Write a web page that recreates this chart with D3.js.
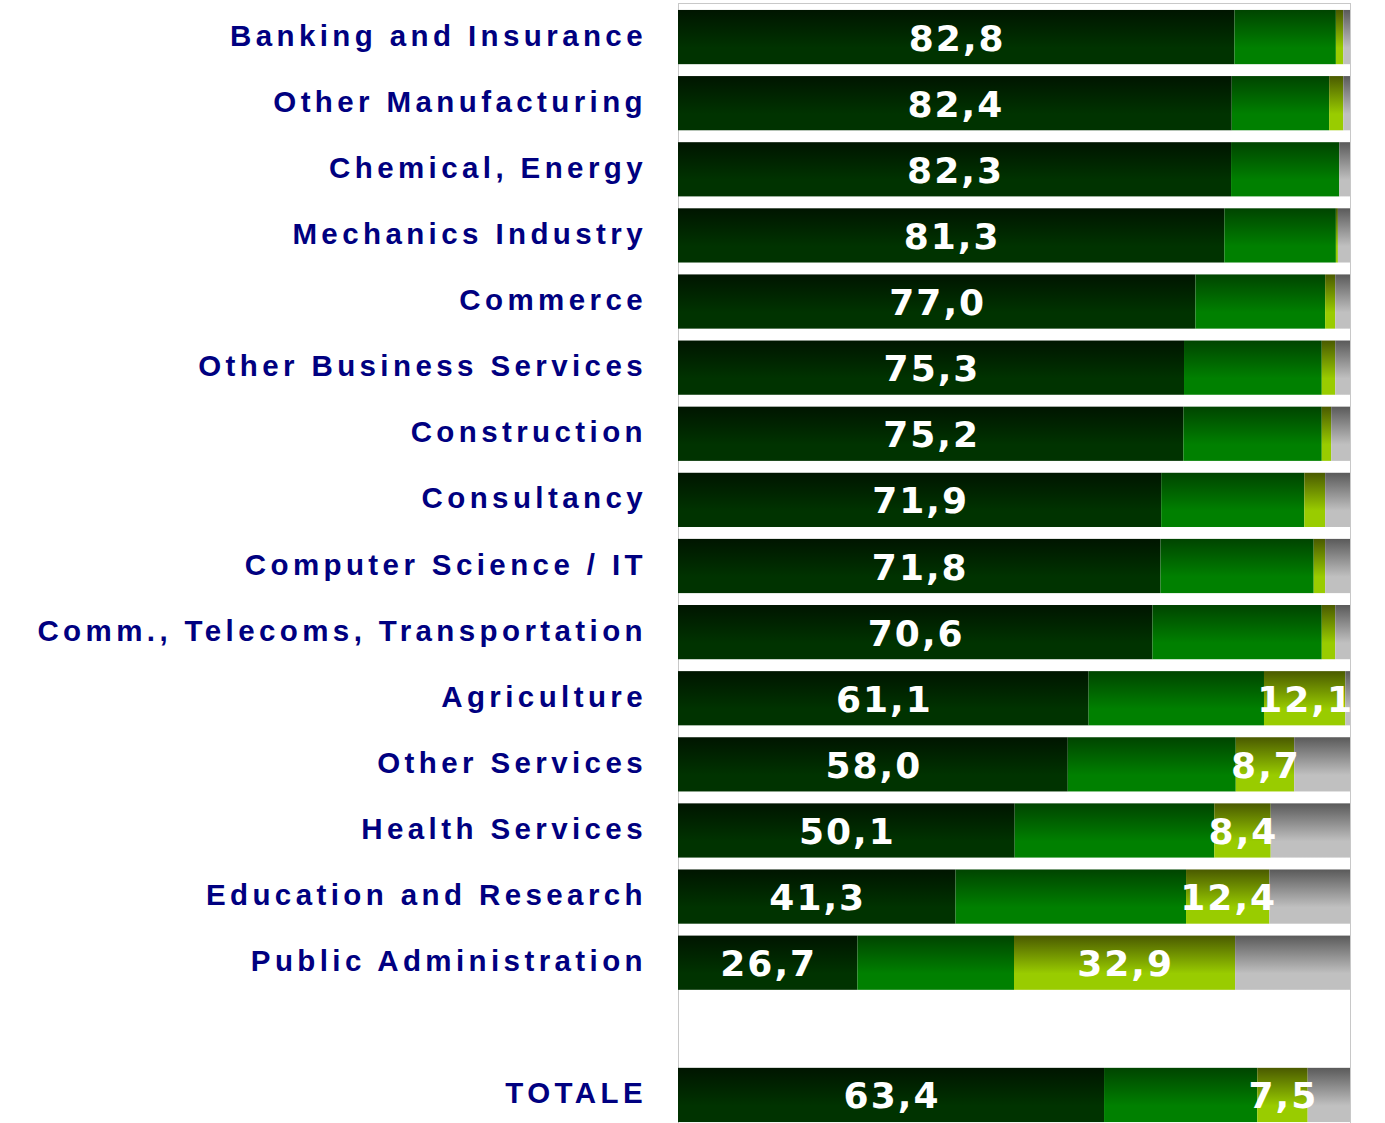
<!DOCTYPE html>
<html>
<head>
<meta charset="utf-8">
<script src="https://cdn.jsdelivr.net/npm/d3@7"></script>
<style>
  body { margin: 0; background: #fff; }
  svg { display: block; }
</style>
</head>
<body>
<svg></svg>
<script>
// rows, top to bottom ("" is the empty slot before the total)
var categories = ["Banking and Insurance", "Other Manufacturing", "Chemical, Energy",
  "Mechanics Industry", "Commerce", "Other Business Services", "Construction",
  "Consultancy", "Computer Science / IT", "Comm., Telecoms, Transportation",
  "Agriculture", "Other Services", "Health Services", "Education and Research",
  "Public Administration", "", "TOTALE"];

// the four stacked shares (%) for each row
var seriesDark  = [82.8, 82.4, 82.3, 81.3, 77.0, 75.3, 75.2, 71.9, 71.8, 70.6, 61.1, 58.0, 50.1, 41.3, 26.7, null, 63.4];
var seriesGreen = [15.1, 14.5, 16.1, 16.6, 19.3, 20.5, 20.6, 21.3, 22.8, 25.2, 26.1, 25.0, 29.7, 34.3, 23.3, null, 22.8];
var seriesLime  = [ 1.1,  2.1,  0.0,  0.3,  1.5,  2.0,  1.4,  3.1,  1.7,  2.0, 12.1,  8.7,  8.4, 12.4, 32.9, null,  7.5];
var seriesGray  = [ 1.0,  1.0,  1.6,  1.8,  2.2,  2.2,  2.8,  3.7,  3.7,  2.2,  0.7,  8.3, 11.8, 12.0, 17.1, null,  6.3];

var width = 1385, height = 1123;
var margins = {top: 4, right: 35, bottom: 0, left: 678};

var svg = d3.select("svg")
  .attr("width", width)
  .attr("height", height);

var fills = [
  {id: "gDark",  top: "#001500", mid: "#003300"},
  {id: "gGreen", top: "#004400", mid: "#008000"},
  {id: "gLime",  top: "#4a5a00", mid: "#99cc00"},
  {id: "gGray",  top: "#5a5a5a", mid: "#c0c0c0"}
];

var defs = svg.append("defs");
fills.forEach(function(f){
  var g = defs.append("linearGradient")
    .attr("id", f.id)
    .attr("x1", 0).attr("y1", 0).attr("x2", 0).attr("y2", 1);
  g.append("stop").attr("offset", "0%").attr("stop-color", f.top);
  g.append("stop").attr("offset", "70%").attr("stop-color", f.mid);
  g.append("stop").attr("offset", "100%").attr("stop-color", f.mid);
});

var x = d3.scaleLinear()
  .domain([0, 100])
  .range([margins.left, width - margins.right]);

var y = d3.scaleBand()
  .domain(categories)
  .range([margins.top, 1128])
  .paddingInner(0.18)
  .paddingOuter(0.09);

// plot frame
svg.append("rect")
  .attr("x", x(0) + 0.5)
  .attr("y", margins.top - 0.5)
  .attr("width", x(100) - x(0))
  .attr("height", height - margins.top + 2)
  .attr("fill", "none")
  .attr("stroke", "#c8c8c8")
  .attr("stroke-width", 1);

var rows = categories.map(function(c, i){
  return {cat: c, dark: seriesDark[i], green: seriesGreen[i], lime: seriesLime[i], gray: seriesGray[i]};
}).filter(function(d){ return d.dark != null; });

var keys = ["dark", "green", "lime", "gray"];
var stacked = d3.stack().keys(keys)(rows);

var fmt = function(v){ return d3.format(".1f")(v).replace(".", ","); };

var layers = svg.selectAll("g.layer")
  .data(stacked)
  .enter()
  .append("g")
  .attr("class", "layer")
  .attr("fill", function(d, i){ return "url(#" + fills[i].id + ")"; });

layers.selectAll("rect")
  .data(function(d){ return d; })
  .enter()
  .append("rect")
  .attr("x", function(d){ return x(d[0]); })
  .attr("y", function(d){ return y(d.data.cat); })
  .attr("width", function(d){ return Math.max(0, x(d[1]) - x(d[0])); })
  .attr("height", y.bandwidth());

// value labels: first segment always, third one when big enough
var labels = [];
stacked[0].forEach(function(d){ labels.push(d); });
stacked[2].forEach(function(d){ if (d[1] - d[0] >= 5) labels.push(d); });

svg.selectAll("text.val")
  .data(labels)
  .enter()
  .append("text")
  .attr("class", "val")
  .attr("x", function(d){ return (x(d[0]) + x(d[1])) / 2 + 1; })
  .attr("y", function(d){ return y(d.data.cat) + y.bandwidth() / 2 + 1; })
  .attr("text-anchor", "middle")
  .attr("dominant-baseline", "central")
  .style("font-family", "'DejaVu Sans', Verdana, sans-serif")
  .style("font-weight", "bold")
  .style("font-size", "36px")
  .style("letter-spacing", "2px")
  .attr("fill", "#fff")
  .text(function(d){ return fmt(d[1] - d[0]); });

// category labels
svg.selectAll("text.cat")
  .data(rows)
  .enter()
  .append("text")
  .attr("class", "cat")
  .attr("x", 647)
  .attr("y", function(d){ return y(d.cat) + y.bandwidth() / 2 - 2; })
  .attr("text-anchor", "end")
  .attr("dominant-baseline", "central")
  .style("font-family", "'Liberation Sans', Arial, sans-serif")
  .style("font-weight", "bold")
  .style("font-size", "29.5px")
  .style("letter-spacing", "4.4px")
  .attr("fill", "#000080")
  .text(function(d){ return d.cat; });
</script>
</body>
</html>
